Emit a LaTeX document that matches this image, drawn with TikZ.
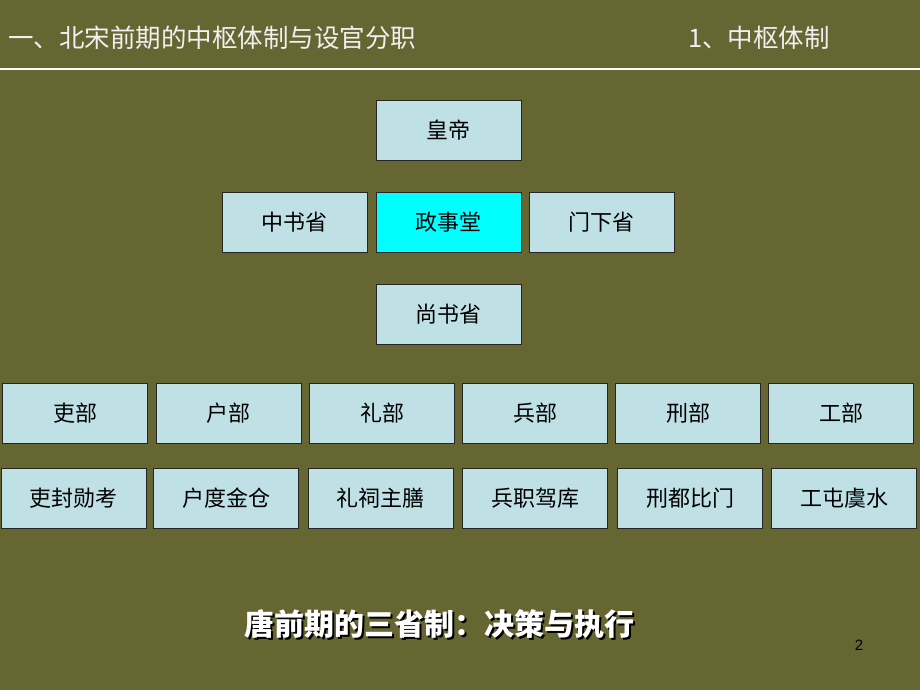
\documentclass[tikz,border=0pt]{standalone}
\usepackage{fontspec}
\setmainfont{Liberation Sans}
\newfontfamily\cjk{Noto Sans CJK SC}
\usepackage{xcolor}
\usepackage{tikz}

\definecolor{olivebg}{HTML}{666633}
\definecolor{boxblue}{HTML}{BFE1E5}
\definecolor{hicyan}{HTML}{00FFFF}

% text with a dark drop shadow
\newcommand{\shadowtext}[1]{\rlap{\kern2pt\raisebox{-2pt}{\color{black}#1}}#1}

\begin{document}
\begin{tikzpicture}[x=1pt, y=-1pt,
        office/.style={rectangle, draw=black!85, line width=0.9pt, fill=boxblue,
            minimum width=145pt, minimum height=60pt, inner sep=0pt,
            font=\cjk\fontsize{22}{22}\selectfont, text=black},
        heading/.style={inner sep=0pt, text=white!94!black,
            font=\cjk\fontsize{25.5}{25.5}\selectfont}]
        \fill[olivebg] (0,0) rectangle (920,690);
        \useasboundingbox (0,0) rectangle (920,690);

        % header
        \node[heading, anchor=west] (T0) at (8,38) {一、北宋前期的中枢体制与设官分职};
        \node[heading, anchor=west] (T1) at (688,38) {1、中枢体制};
        \draw[white, line width=1.6pt] (0,69) -- (920,69);

        % emperor and the three departments
        \node[office] (H0) at (448.5,130) {皇帝};
        \node[office] (Z0) at (294.5,222) {中书省};
        \node[office, fill=hicyan] (Z1) at (448.5,222) {政事堂};
        \node[office] (Z2) at (601.5,222) {门下省};
        \node[office] (S0) at (448.5,314.5) {尚书省};

        % six ministries
        \node[office] (B1) at (75,413.5) {吏部};
        \node[office] (B2) at (228.5,413.5) {户部};
        \node[office] (B3) at (382,413.5) {礼部};
        \node[office] (B4) at (535,413.5) {兵部};
        \node[office] (B5) at (688,413.5) {刑部};
        \node[office] (B6) at (841,413.5) {工部};

        % their bureaus
        \node[office] (C1) at (73.5,498) {吏封勋考};
        \node[office] (C2) at (226,498) {户度金仓};
        \node[office] (C3) at (380.5,498) {礼祠主膳};
        \node[office] (C4) at (535,498) {兵职驾库};
        \node[office] (C5) at (690,498) {刑都比门};
        \node[office] (C6) at (844,498) {工屯虞水};

        % caption
        \node[inner sep=0pt, text=white, font=\cjk\bfseries\fontsize{30}{30}\selectfont]
            (K0) at (439,625) {\shadowtext{唐前期的三省制：决策与执行}};
        \node[inner sep=0pt, text=black, font=\fontsize{15}{15}\selectfont] (P0) at (859,645) {2};
    \end{tikzpicture}
\end{document}
